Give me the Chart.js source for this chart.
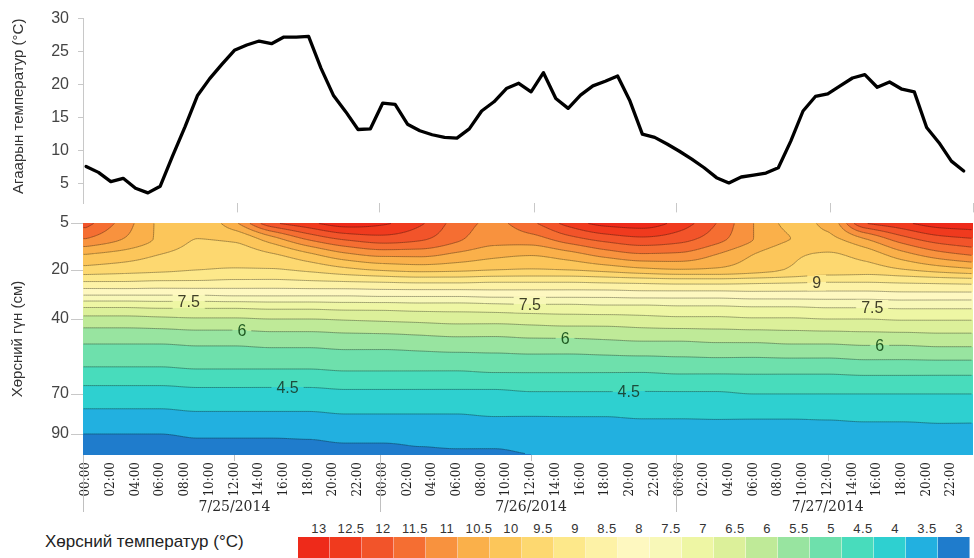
<!DOCTYPE html>
<html>
<head>
<meta charset="utf-8">
<script src="https://cdn.jsdelivr.net/npm/chart.js@4.4.0/dist/chart.umd.min.js"></script>
<style>
html,body{margin:0;padding:0;background:#fff;width:974px;height:558px;overflow:hidden;position:relative;font-family:'Liberation Sans',Arial,sans-serif}
#cA{position:absolute;left:0;top:0}
#cB{position:absolute;left:0;top:205px}
#legTitle{position:absolute;left:45px;top:532px;font-size:17px;line-height:20px;color:#222;white-space:nowrap}
.lb{position:absolute;top:537px;height:22px;width:32px;box-sizing:border-box;border-right:1px solid rgba(255,255,255,0.45)}
.ll{position:absolute;top:521px;line-height:16px;font-size:13px;color:#333;letter-spacing:0.4px;transform:translateX(-50%);white-space:nowrap}
</style>
</head>
<body>
<canvas id="cA" width="974" height="222"></canvas>
<canvas id="cB" width="974" height="315"></canvas>
<div id="legTitle">Хөрсний температур (°C)</div>
<div id="leg"></div>
<script>
// ---------------- DATA ----------------
const days = ['7/25/2014', '7/26/2014', '7/27/2014'];
const timeLabels = ['00:00','02:00','04:00','06:00','08:00','10:00','12:00','14:00','16:00','18:00','20:00','22:00'];
const airTicks = [5, 10, 15, 20, 25, 30];
const depthTicks = [5, 20, 40, 70, 90];

// air temperature, hourly from 7/25/2014 00:00
const airTemp = [
  7.6, 6.7, 5.3, 5.8, 4.3, 3.6, 4.6, 9.2, 13.6, 18.3, 20.9, 23.1,
  25.2, 26.0, 26.6, 26.2, 27.2, 27.2, 27.3, 22.5, 18.4, 15.9, 13.2, 13.3,
  17.2, 17.0, 14.0, 13.0, 12.4, 12.0, 11.9, 13.3, 16.0, 17.4, 19.4, 20.2,
  18.9, 21.8, 17.9, 16.4, 18.4, 19.8, 20.5, 21.3, 17.5, 12.5, 12.0, 11.0,
  9.9, 8.7, 7.4, 5.9, 5.1, 6.0, 6.3, 6.6, 7.4, 11.4, 16.0, 18.2,
  18.6, 19.8, 21.0, 21.5, 19.6, 20.4, 19.3, 18.9, 13.5, 11.2, 8.4, 6.9
];

// soil temperature grid: hours since 7/25 00:00 (every 3 h) x depth (cm)
const gridHours = [0,3,6,9,12,15,18,21,24,27,30,33,36,39,42,45,48,51,54,57,60,63,66,69,72];
const gridDepths = [5,10,15,20,25,30,35,40,50,60,70,80,90,100];
const soil5   = [12.2,11.3,10.4,10.1,10.9,12.4,12.9,13.3,13.1,12.6,11.8,11.4,11.9,12.7,13.2,13.3,12.8,12.0,11.0,10.4,10.6,12.5,12.9,13.3,13.4];
const soil10  = [11.5,11.0,10.4,10.0,10.1,10.8,11.6,12.1,12.3,12.1,11.6,11.2,11.3,11.8,12.2,12.4,12.2,11.7,11.0,10.5,10.4,11.0,11.8,12.3,12.5];
const soil15  = [10.5,10.3,10.0,9.8,9.75,9.95,10.4,10.9,11.15,11.15,10.9,10.65,10.55,10.8,11.2,11.45,11.4,11.0,10.5,10.1,9.95,10.2,10.8,11.3,11.6];
const soil20  = [9.8,9.7,9.6,9.5,9.45,9.45,9.6,9.85,10.05,10.15,10.1,10.0,9.95,10.0,10.15,10.35,10.45,10.4,10.2,9.95,9.75,9.75,9.95,10.2,10.4];
const soil25  = [8.95,8.95,8.9,8.9,8.85,8.85,8.9,8.95,9.0,9.05,9.05,9.0,9.0,9.0,9.05,9.1,9.15,9.15,9.1,9.05,9.0,9.0,9.05,9.1,9.15];
const soil30  = [8.05,8.05,8.05,8.05,8.1,8.1,8.1,8.1,8.15,8.15,8.15,8.2,8.2,8.2,8.2,8.25,8.25,8.25,8.3,8.3,8.3,8.3,8.35,8.35,8.35];
const soil35  = [7.05,7.05,7.1,7.1,7.1,7.15,7.15,7.2,7.2,7.25,7.25,7.3,7.35,7.35,7.4,7.4,7.45,7.45,7.5,7.5,7.55,7.55,7.6,7.6,7.6];
const soil40  = [6.35,6.35,6.4,6.45,6.45,6.5,6.5,6.55,6.6,6.65,6.7,6.7,6.75,6.8,6.8,6.85,6.9,6.9,6.95,6.95,7.0,7.0,7.05,7.05,7.05];
const soil50  = [5.5,5.5,5.5,5.55,5.55,5.6,5.6,5.65,5.65,5.7,5.75,5.75,5.8,5.8,5.85,5.9,5.9,5.95,5.95,6.0,6.0,6.05,6.05,6.1,6.1];
const soil60  = [4.95,4.95,4.95,5.0,5.0,5.0,5.0,5.05,5.05,5.05,5.05,5.1,5.1,5.1,5.1,5.1,5.15,5.15,5.15,5.15,5.15,5.2,5.2,5.2,5.2];
const soil70  = [4.3,4.3,4.3,4.35,4.35,4.35,4.35,4.4,4.4,4.4,4.4,4.4,4.45,4.45,4.45,4.45,4.45,4.45,4.5,4.5,4.5,4.5,4.5,4.5,4.5];
const soil80  = [3.9,3.9,3.9,3.95,3.95,3.95,3.95,4.0,4.0,4.0,4.0,4.05,4.05,4.05,4.05,4.1,4.1,4.1,4.1,4.1,4.1,4.15,4.15,4.15,4.15];
const soil90  = [3.5,3.5,3.5,3.55,3.55,3.55,3.55,3.6,3.6,3.6,3.65,3.65,3.65,3.7,3.7,3.7,3.7,3.75,3.75,3.75,3.8,3.8,3.8,3.85,3.85];
const soil100 = [3.3,3.3,3.3,3.35,3.35,3.35,3.4,3.4,3.4,3.45,3.45,3.45,3.5,3.5,3.5,3.55,3.55,3.55,3.6,3.6,3.6,3.65,3.65,3.65,3.7];

// colour scale levels (legend labels)
const legendValues = [13,12.5,12,11.5,11,10.5,10,9.5,9,8.5,8,7.5,7,6.5,6,5.5,5,4.5,4,3.5,3];

// contour labels: level and time (h) where drawn
const contourLabels = [
  {level:7.5, t:8.3}, {level:7.5, t:35.9}, {level:7.5, t:63.6},
  {level:6, t:12.6}, {level:6, t:38.75}, {level:6, t:64.2},
  {level:4.5, t:16.3}, {level:4.5, t:43.9},
  {level:9, t:59.1}
];

// ---------------- STYLE ----------------
const FONT = "'Liberation Sans', Arial, sans-serif";
const SERIF = "'DejaVu Serif', 'Liberation Serif', serif";
const palette = ['#ee2a1a','#f03a1e','#f2542a','#f56e32','#f8923e','#fab04a','#fcc65a','#fdd870','#fde88a','#fdf2a6',
                 '#fef8c0','#f8f8b8','#eef6a4','#dcf09a','#bfea98','#98e4a0','#6ee0ac','#48dcbc','#2ed0d0','#22b0e0','#1f7ccc'];
const labelColors = {'9':'#45402a','7.5':'#404028','6':'#1f5a22','4.5':'#1c4c3c'};
const topTickHours = [12.25, 23.75, 36.25, 47.75, 60.25, 71.75];
const X_MIN = -0.25, X_MAX = 71.75;
// depth axis layout (fraction of plot height at each depth)
const depthKnots = [5, 20, 40, 70, 90, 100.5];
const depthFrac  = [0, 0.2026, 0.4138, 0.7371, 0.9095, 1];

function hexRgb(h){ return [parseInt(h.substr(1,2),16), parseInt(h.substr(3,2),16), parseInt(h.substr(5,2),16)]; }
const palRgb = palette.map(hexRgb);

function piece(v, xs, ys){
  if (!isFinite(v)) return 0;
  let k = 0;
  while (k < xs.length - 2 && v > xs[k+1]) k++;
  return ys[k] + (v - xs[k]) * (ys[k+1] - ys[k]) / (xs[k+1] - xs[k]);
}

class DepthScale extends Chart.LinearScale {
  static id = 'depthScale';
  static defaults = {};
  getPixelForValue(value){ return this.getPixelForDecimal(piece(value, depthKnots, depthFrac)); }
  getValueForPixel(pixel){ return piece(this.getDecimalForPixel(pixel), depthFrac, depthKnots); }
}
Chart.register(DepthScale);

function pchip(xs, ys){
  const n = xs.length, h = [], d = [], m = new Array(n);
  for (let i=0;i<n-1;i++){ h[i]=xs[i+1]-xs[i]; d[i]=(ys[i+1]-ys[i])/h[i]; }
  m[0]=d[0]; m[n-1]=d[n-2];
  for (let i=1;i<n-1;i++){
    if (d[i-1]*d[i] <= 0) m[i]=0;
    else { const w1=2*h[i]+h[i-1], w2=h[i]+2*h[i-1]; m[i]=(w1+w2)/(w1/d[i-1]+w2/d[i]); }
  }
  return function(x){
    if (x<=xs[0]) return ys[0];
    if (x>=xs[n-1]) return ys[n-1];
    let k=0; while (k<n-2 && x>xs[k+1]) k++;
    const t=(x-xs[k])/h[k], t2=t*t, t3=t2*t;
    return (2*t3-3*t2+1)*ys[k] + (t3-2*t2+t)*h[k]*m[k] + (-2*t3+3*t2)*ys[k+1] + (t3-t2)*h[k]*m[k+1];
  };
}

function bandIndex(v){
  if (v >= legendValues[0]) return 0;
  const k = Math.ceil((legendValues[0] - v) / 0.5 - 1e-9);
  return Math.max(0, Math.min(palette.length - 1, k));
}

// ---------------- TOP CHART: air temperature ----------------
new Chart(document.getElementById('cA'), {
  type: 'line',
  data: { datasets: [{
    data: airTemp.map((v, i) => ({x: i, y: v})),
    borderColor: '#000', borderWidth: 3.3, pointRadius: 0, tension: 0,
    borderJoinStyle: 'round', borderCapStyle: 'round', fill: false
  }]},
  options: {
    responsive: false, animation: false, events: [],
    layout: {padding: {left: 0, right: 1, top: 18, bottom: 0}},
    plugins: {legend: {display: false}, tooltip: {enabled: false}},
    scales: {
      x: {
        type: 'linear', min: X_MIN, max: X_MAX,
        afterBuildTicks: s => { s.ticks = topTickHours.map(v => ({value: v})); },
        ticks: {display: false},
        grid: {drawOnChartArea: false, drawTicks: true, tickLength: 9, color: '#c8c8c8'},
        border: {display: false},
        afterFit: s => { s.height = 10; }
      },
      y: {
        min: 2, max: 30,
        afterBuildTicks: s => { s.ticks = airTicks.map(v => ({value: v})); },
        ticks: {font: {family: FONT, size: 16}, color: '#444', padding: 9},
        grid: {drawOnChartArea: false, tickLength: 5, color: '#c8c8c8'},
        border: {color: '#c8c8c8'},
        title: {display: true, text: 'Агаарын температур (°C)', align: 'end',
                font: {family: FONT, size: 15}, color: '#333', padding: {top: 10, bottom: 0}},
        afterFit: s => { s.width = 83; }
      }
    }
  }
});

// ---------------- BOTTOM CHART: soil temperature contour ----------------
const soilRows = [soil5, soil10, soil15, soil20, soil25, soil30, soil35, soil40, soil50, soil60, soil70, soil80, soil90, soil100];
const gridPoints = [];
gridDepths.forEach((d, r) => gridHours.forEach((t, c) => gridPoints.push({x: t, y: d, v: soilRows[r][c]})));

const timeTicks = [];
days.forEach((d, di) => timeLabels.forEach((lb, hi) => timeTicks.push(di * 24 + hi * 2)));

const fieldPlugin = {
  id: 'soilField',
  beforeDatasetsDraw(chart){
    const {ctx, chartArea: ca, scales: {x: xs, y: ys}} = chart;
    const L = Math.round(ca.left), T = Math.round(ca.top);
    const W = Math.round(ca.right) - L, H = Math.round(ca.bottom) - T;
    const rows = chart.data.datasets[0].soil;
    const tInterp = rows.map(r => pchip(gridHours, r));
    const ts = [], ds = [];
    for (let i = 0; i < W; i++) ts.push(xs.getValueForPixel(L + i + 0.5));
    for (let j = 0; j < H; j++) ds.push(ys.getValueForPixel(T + j + 0.5));
    const V = new Float32Array(W * H);
    for (let i = 0; i < W; i++){
      const prof = tInterp.map(f => f(ts[i]));
      const f = pchip(gridDepths, prof);
      for (let j = 0; j < H; j++) V[j * W + i] = f(ds[j]);
    }
    // filled bands
    const off = document.createElement('canvas'); off.width = W; off.height = H;
    const octx = off.getContext('2d');
    const img = octx.createImageData(W, H);
    for (let k = 0; k < W * H; k++){
      const c = palRgb[bandIndex(V[k])];
      img.data[k*4] = c[0]; img.data[k*4+1] = c[1]; img.data[k*4+2] = c[2]; img.data[k*4+3] = 255;
    }
    octx.putImageData(img, 0, 0);
    ctx.save();
    ctx.drawImage(off, L, T);

    // contour labels: find crossing positions
    ctx.font = '16px ' + FONT;
    const boxes = [];
    contourLabels.forEach(lb => {
      const px = xs.getPixelForValue(lb.t);
      const i = Math.max(0, Math.min(W - 1, Math.round(px - L - 0.5)));
      for (let j = 0; j < H - 1; j++){
        const a = V[j*W+i] - lb.level, b = V[(j+1)*W+i] - lb.level;
        if (a * b <= 0 && a !== b){
          const py = T + j + 0.5 + a / (a - b);
          const txt = String(lb.level);
          const tw = ctx.measureText(txt).width;
          boxes.push({txt, x: px, y: py, w: tw + 10, h: 16, level: lb.level});
          break;
        }
      }
    });

    // contour lines (clipped around labels)
    ctx.beginPath();
    ctx.rect(L, T, W, H);
    boxes.forEach(b => ctx.rect(b.x - b.w/2, b.y - b.h/2, b.w, b.h));
    ctx.clip('evenodd');
    const step = 2;
    const nx = Math.floor((W - 1) / step) + 1, ny = Math.floor((H - 1) / step) + 1;
    for (let li = 0; li < legendValues.length - 1; li++){
      const lv = legendValues[li];
      const up = palRgb[li], dn = palRgb[li + 1];
      const col = 'rgba(' + Math.round((up[0]+dn[0])/2*0.64) + ',' + Math.round((up[1]+dn[1])/2*0.64) + ',' + Math.round((up[2]+dn[2])/2*0.64) + ',0.95)';
      ctx.beginPath();
      for (let b = 0; b < ny - 1; b++){
        const y0 = T + b*step + 0.5, y1 = y0 + step;
        const r0 = b*step*W, r1 = (b+1)*step*W;
        for (let a = 0; a < nx - 1; a++){
          const c0 = a*step, c1 = c0 + step;
          const v0 = V[r0+c0], v1 = V[r0+c1], v2 = V[r1+c1], v3 = V[r1+c0];
          const s0 = v0 > lv, s1 = v1 > lv, s2 = v2 > lv, s3 = v3 > lv;
          if (s0 === s1 && s1 === s2 && s2 === s3) continue;
          const x0 = L + c0 + 0.5, x1 = x0 + step;
          const p = [];
          if (s0 !== s1) p.push([x0 + (lv-v0)/(v1-v0)*step, y0]);
          if (s1 !== s2) p.push([x1, y0 + (lv-v1)/(v2-v1)*step]);
          if (s3 !== s2) p.push([x0 + (lv-v3)/(v2-v3)*step, y1]);
          if (s0 !== s3) p.push([x0, y0 + (lv-v0)/(v3-v0)*step]);
          if (p.length === 2){ ctx.moveTo(p[0][0], p[0][1]); ctx.lineTo(p[1][0], p[1][1]); }
          else if (p.length === 4){ ctx.moveTo(p[0][0], p[0][1]); ctx.lineTo(p[3][0], p[3][1]); ctx.moveTo(p[1][0], p[1][1]); ctx.lineTo(p[2][0], p[2][1]); }
        }
      }
      ctx.strokeStyle = col; ctx.lineWidth = 1; ctx.stroke();
    }
    ctx.restore();

    // label text
    ctx.save();
    ctx.font = '16px ' + FONT;
    ctx.textAlign = 'center'; ctx.textBaseline = 'middle';
    boxes.forEach(b => { ctx.fillStyle = labelColors[String(b.level)] || '#333'; ctx.fillText(b.txt, b.x, b.y + 1); });
    ctx.restore();
  }
};

const axisDecor = {
  id: 'axisDecor',
  afterDraw(chart){
    const {ctx, chartArea: ca, scales: {x: xs}} = chart;
    ctx.save();
    ctx.strokeStyle = '#c0c0c0'; ctx.lineWidth = 1;
    days.forEach((d, di) => {
      const sx = Math.round(xs.getPixelForValue(di * 24 - 0.25)) + 0.5;
      ctx.beginPath(); ctx.moveTo(sx, ca.bottom); ctx.lineTo(sx, ca.bottom + 57); ctx.stroke();
      const mx = Math.round(xs.getPixelForValue(di * 24 + 12)) + 0.5;
      ctx.beginPath(); ctx.moveTo(mx, ca.bottom); ctx.lineTo(mx, ca.bottom + 6); ctx.stroke();
    });
    ctx.fillStyle = '#2a2a2a';
    ctx.font = '14px ' + SERIF;
    ctx.textAlign = 'center'; ctx.textBaseline = 'middle';
    days.forEach((d, di) => ctx.fillText(d, xs.getPixelForValue(di * 24 + 12), ca.bottom + 52));
    ctx.restore();
  }
};

new Chart(document.getElementById('cB'), {
  type: 'scatter',
  data: {datasets: [{data: gridPoints, pointRadius: 0, soil: soilRows}]},
  options: {
    responsive: false, animation: false, events: [],
    layout: {padding: {left: 0, right: 1, top: 18, bottom: 0}},
    plugins: {legend: {display: false}, tooltip: {enabled: false}},
    scales: {
      x: {
        type: 'linear', min: X_MIN, max: X_MAX,
        afterBuildTicks: s => { s.ticks = timeTicks.map(v => ({value: v})); },
        ticks: {autoSkip: false, minRotation: 90, maxRotation: 90, padding: 7,
                font: {family: SERIF, size: 12}, color: '#222',
                callback: v => timeLabels[Math.round((v % 24) / 2)]},
        grid: {display: false, drawTicks: false},
        border: {display: false},
        afterFit: s => { s.height = 65; }
      },
      y: {
        type: 'depthScale', reverse: true, min: 5, max: 100.5,
        afterBuildTicks: s => { s.ticks = depthTicks.map(v => ({value: v})); },
        ticks: {font: {family: FONT, size: 16}, color: '#444', padding: 2, callback: v => String(v)},
        grid: {drawOnChartArea: false, tickLength: 12, color: '#c8c8c8'},
        border: {color: '#c8c8c8'},
        title: {display: true, text: 'Хөрсний гүн (см)', font: {family: FONT, size: 15}, color: '#333', padding: {top: 9, bottom: 0}},
        afterFit: s => { s.width = 83; }
      }
    }
  },
  plugins: [fieldPlugin, axisDecor]
});

// ---------------- COLOUR LEGEND ----------------
const leg = document.getElementById('leg');
legendValues.forEach((v, i) => {
  const box = document.createElement('div');
  box.className = 'lb';
  box.style.left = (298 + 32 * i) + 'px';
  box.style.background = palette[i];
  leg.appendChild(box);
  const lab = document.createElement('div');
  lab.className = 'll';
  lab.style.left = (298 + 32 * i + 16 + 5) + 'px';
  lab.textContent = String(v);
  leg.appendChild(lab);
});
</script>
</body>
</html>
